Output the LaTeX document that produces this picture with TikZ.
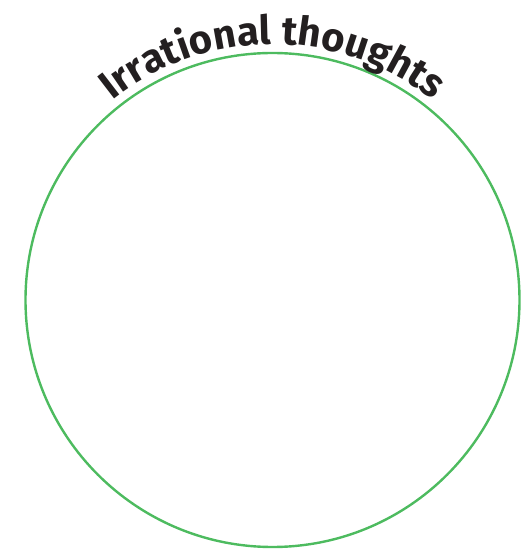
\documentclass[tikz,border=0pt]{standalone}
\usepackage{fontspec}
\setsansfont{Fira Sans}
\usepackage{tikz}
\usetikzlibrary{calc, decorations.text}

\definecolor{ringgreen}{HTML}{4DBB5F}
\definecolor{inkdark}{HTML}{231F20}

\begin{document}
\begin{tikzpicture}[x=1pt,y=1pt]
    \useasboundingbox (0,0) rectangle (529,550);
    \coordinate (O) at (272.5,250);

    \draw[ringgreen,line width=2.4pt] (O) circle (247);

    \path[decorate,decoration={text along path,text align=center,
        text color=inkdark,
        text={|\sffamily\bfseries\fontsize{40}{40}\selectfont|Irrational thoughts}}]
        ($(O)+(140:256)$) arc[start angle=140,end angle=40,radius=256];
\end{tikzpicture}
\end{document}
